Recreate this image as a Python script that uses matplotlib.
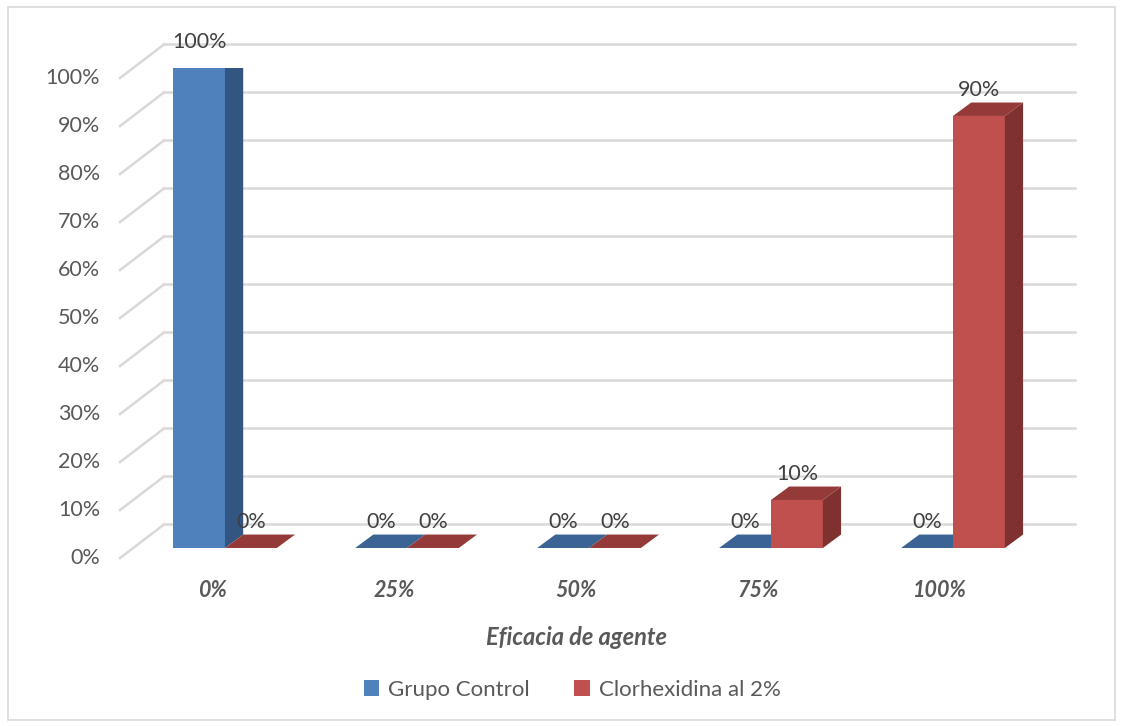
import matplotlib
matplotlib.use("Agg")
import matplotlib.pyplot as plt
from matplotlib.patches import Polygon, Rectangle, Patch

# data
categories = ["0%", "25%", "50%", "75%", "100%"]
series_names = ["Grupo Control", "Clorhexidina al 2%"]
grupo_control = [100, 0, 0, 0, 0]
clorhexidina = [0, 0, 0, 10, 90]
y_ticks = [0, 10, 20, 30, 40, 50, 60, 70, 80, 90, 100]
x_title = "Eficacia de agente"

# (front, side, top) shades for the fake 3d columns
blue = ("#4f81bd", "#325681", "#3b6494")
red = ("#c0504d", "#7f3130", "#943b39")

plt.rcParams["font.family"] = ["Lato", "DejaVu Sans"]

BAR_W = 0.285            # column width in category units
BAR_DX, BAR_DY = 0.10, 2.8     # column depth
WALL_FRONT = (-0.577, -2.1)    # left wall, front edge (x, y offset)
WALL_BACK = (-0.335, 4.9)      # left wall, back edge
WALL_RIGHT = 4.67
LABEL_SHIFT = -0.07            # floor front edge relative to column faces


def column(ax, x0, h, colors):
    front, side, top = colors
    dx, dy = BAR_DX, BAR_DY
    x1 = x0 + BAR_W
    if h > 0:
        ax.add_patch(Polygon([(x0, 0), (x1, 0), (x1, h), (x0, h)],
                             fc=front, lw=0, zorder=3))
        ax.add_patch(Polygon([(x1, 0), (x1 + dx, dy), (x1 + dx, h + dy), (x1, h)],
                             fc=side, lw=0, zorder=3))
    ax.add_patch(Polygon([(x0, h), (x1, h), (x1 + dx, h + dy), (x0 + dx, h + dy)],
                         fc=top, lw=0, zorder=3))
    ax.annotate(f"{h}%", (x0 + BAR_W / 2, h + dy), xytext=(0, 9),
                textcoords="offset points", ha="center", va="center",
                fontsize=15.5, color="#404040", zorder=5,
                annotation_clip=False)


fig = plt.figure(figsize=(11.22, 7.26), dpi=100)
ax = fig.add_axes([0.1032, 0.2452, 0.8435, 0.6612])
ax.set_xlim(-0.6, 4.6)
ax.set_ylim(0, 100)
ax.axis("off")

# outer frame
fig.add_artist(Rectangle((0.007, 0.008), 0.987, 0.983, transform=fig.transFigure,
                         fill=False, ec="#d9d9d9", lw=1.2))

# back wall and left wall gridlines
for v in y_ticks:
    ax.plot([WALL_BACK[0], WALL_RIGHT], [v + WALL_BACK[1]] * 2,
            color="#d9d9d9", lw=1.8, zorder=1, clip_on=False)
    ax.plot([WALL_BACK[0], WALL_FRONT[0]], [v + WALL_BACK[1], v + WALL_FRONT[1]],
            color="#d9d9d9", lw=1.8, zorder=1, clip_on=False)
    ax.text(WALL_FRONT[0] - 0.11, v + WALL_FRONT[1], f"{v}%", ha="right",
            va="center", fontsize=15.5, color="#595959")

# columns
for i, cat in enumerate(categories):
    column(ax, i - BAR_W, grupo_control[i], blue)
    column(ax, i, clorhexidina[i], red)
    ax.text(i + LABEL_SHIFT, -8.8, cat, ha="center", va="center",
            fontsize=15.5, fontweight="bold", fontstyle="italic", color="#595959")

ax.text((len(categories) - 1) / 2 + LABEL_SHIFT, -18.6, x_title, ha="center",
        va="center", fontsize=17, fontweight="bold", fontstyle="italic",
        color="#595959")

handles = [Patch(fc=blue[0]), Patch(fc=red[0])]
fig.legend(handles, series_names, loc="center", bbox_to_anchor=(0.51, 0.05),
           ncol=2, frameon=False, fontsize=16, labelcolor="#595959",
           handlelength=0.7, handleheight=0.7, handletextpad=0.4,
           columnspacing=2.0)

fig.savefig("out.png", dpi=100)
